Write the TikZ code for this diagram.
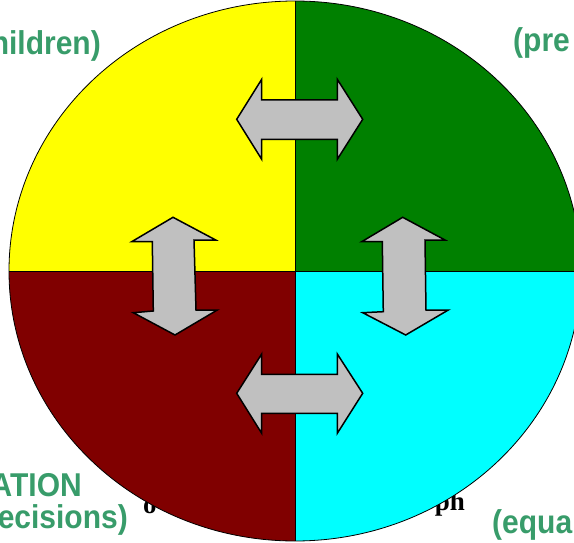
\documentclass[tikz,border=0pt]{standalone}
\usepackage{fontspec}
\newfontfamily\labelsans{Liberation Sans}
\newfontfamily\labelserif{Liberation Serif}
\definecolor{quadyellow}{RGB}{255,255,0}
\definecolor{quadgreen}{RGB}{0,128,0}
\definecolor{quadmaroon}{RGB}{128,0,0}
\definecolor{quadcyan}{RGB}{0,255,255}
\definecolor{arrowgray}{RGB}{192,192,192}
\definecolor{titlegreen}{RGB}{56,156,106}
% captions are set a little taller than wide
\newcommand{\tallcap}[1]{\scalebox{1}[1.1]{#1}}
\tikzset{
  twoway/.style={fill=arrowgray, draw=black, line width=1.5pt, line join=miter},
  rim/.style={draw=black, line width=0.8pt},
  corner/.style={font=\labelsans\bfseries\fontsize{30}{34}\selectfont, text=titlegreen, inner sep=0pt},
  under/.style={font=\labelserif\bfseries\fontsize{27}{30}\selectfont, text=black, inner sep=0pt}
}
\begin{document}
\begin{tikzpicture}[x=1pt, y=-1pt]
  \useasboundingbox (0,0) rectangle (574,543);
  \clip (0,0) rectangle (574,543);

  % corner captions
  \node[corner, anchor=base east] (capTL) at (101,55) {\tallcap{hildren)}};
  \node[corner, anchor=base west] (capTR) at (513,52) {\tallcap{(pre}};
  \node[corner, anchor=base east] (capBL1) at (82,496) {\tallcap{ATION}};
  \node[corner, anchor=base east] (capBL2) at (128,528) {\tallcap{ecisions)}};
  \node[corner, anchor=base west] (capBR) at (492,533) {\tallcap{(equa}};

  % text lying under the disc
  \node[under, anchor=base west] (subL) at (143,513) {o};
  \node[under, anchor=base east] (subR) at (465,510) {ph};

  % four-colour disc
  \coordinate (c) at (295,271);
  \begin{scope}
    \clip (c) ellipse [x radius=286, y radius=270];
    \fill[quadyellow] (0,0) rectangle (c);
    \fill[quadgreen] (295,0) rectangle (600,271);
    \fill[quadmaroon] (0,271) rectangle (295,560);
    \fill[quadcyan] (c) rectangle (600,560);
  \end{scope}
  \draw[rim] (c) ellipse [x radius=286, y radius=270];
  \draw[rim] (295,1) -- (295,541);
  \draw[rim] (9,271) -- (581,271);

  % top double arrow
  \draw[twoway] (236.7,119.3) -- (261.7,79.3) -- (261.7,100) -- (337.3,100) -- (337.3,79.3)
    -- (362.7,119.3) -- (337.3,159.3) -- (337.3,139.3) -- (261.7,139.3) -- (261.7,159.3) -- cycle;
  % bottom double arrow
  \draw[twoway] (236.7,393.3) -- (261.7,354) -- (261.7,374.3) -- (337.3,374.3) -- (337.3,354)
    -- (362.7,393.3) -- (337.3,433.3) -- (337.3,413.3) -- (261.7,413.3) -- (261.7,433.3) -- cycle;
  % left double arrow
  \draw[twoway] (173,217.3) -- (215.7,240) -- (194,240) -- (196,310) -- (217.3,310)
    -- (175,335) -- (133.3,312.7) -- (153.3,311) -- (152.3,241.7) -- (131.7,241.7) -- cycle;
  % right double arrow
  \draw[twoway] (402.7,217.3) -- (445,240) -- (425,240) -- (426,310) -- (448.3,310)
    -- (405.7,335) -- (362.7,312.7) -- (383.3,311.7) -- (382.3,241.7) -- (361.7,241.7) -- cycle;
\end{tikzpicture}
\end{document}
